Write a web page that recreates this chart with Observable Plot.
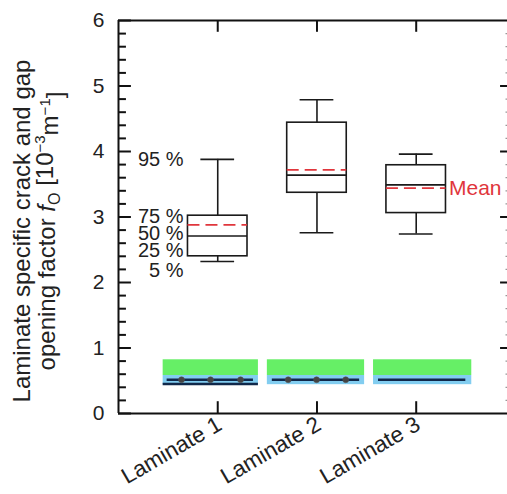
<!DOCTYPE html>
<html>
<head>
<meta charset="utf-8">
<script src="https://cdn.jsdelivr.net/npm/d3@7"></script>
<script src="https://cdn.jsdelivr.net/npm/@observablehq/plot@0.6"></script>
<style>
  html, body { margin: 0; padding: 0; background: #fff; }
  svg { display: block; }
</style>
</head>
<body>
<div id="chart"></div>
<script>
// ---- data ----
const categories = ["Laminate 1", "Laminate 2", "Laminate 3"];
const catPos = [1, 2, 3];
const p5  = [2.32, 2.76, 2.74];
const p25 = [2.40, 3.37, 3.06];
const p50 = [2.71, 3.64, 3.49];
const p75 = [3.02, 4.44, 3.79];
const p95 = [3.88, 4.79, 3.96];
const meanVals = [2.88, 3.72, 3.44];

// bottom bands (green / blue)
const bandStart = [0.45, 1.50, 2.57];
const bandEnd   = [1.41, 2.48, 3.56];
const greenTop  = [0.82, 0.82, 0.82];
const blueTop   = [0.58, 0.58, 0.58];
const blueBottom= [0.44, 0.44, 0.44];
// dark lines inside bands
const lineStart = [0.49, 1.55, 2.62];
const lineEnd   = [1.36, 2.43, 3.50];
const lineVal   = [0.515, 0.515, 0.515];
// extra bottom line for laminate 1
const extraLine = [{x1: 0.45, x2: 1.41, y: 0.45}];
// dots
const dotX = [0.635, 0.927, 1.23, 1.71, 1.996, 2.29];
const dotY = [0.515, 0.515, 0.515, 0.515, 0.515, 0.515];

// percentile labels
const pctLabels = ["95 %", "75 %", "50 %", "25 %", "5 %"];
const pctY = [3.88, 3.01, 2.75, 2.48, 2.18];

const yTicks = [0, 1, 2, 3, 4, 5, 6];

// ---- build tables ----
const boxes = categories.map((c, i) => ({
  c, x: catPos[i], p5: p5[i], p25: p25[i], p50: p50[i], p75: p75[i], p95: p95[i], mean: meanVals[i]
}));
const bands = categories.map((c, i) => ({
  x1: bandStart[i], x2: bandEnd[i], g: greenTop[i], b: blueTop[i], bb: blueBottom[i]
}));
const darkLines = categories.map((c, i) => ({x1: lineStart[i], x2: lineEnd[i], y: lineVal[i]}));
const dots = dotX.map((x, i) => ({x, y: dotY[i]}));
const pcts = pctLabels.map((t, i) => ({t, y: pctY[i]}));
const minorTicks = d3.range(0, 6.001, 0.2).map(v => +v.toFixed(1)).filter(v => Math.abs(v - Math.round(v)) > 1e-6);

const XMAX = 3.92;
const BW = 0.30, CW = 0.17;
const black = "#1a1a1a";
const red = "#e0363c";

const plot = Plot.plot({
  width: 507,
  height: 494,
  marginLeft: 118,
  marginRight: 0,
  marginTop: 20,
  marginBottom: 81,
  x: {type: "linear", domain: [0, XMAX], axis: null},
  y: {type: "linear", domain: [0, 6], axis: null},
  style: {fontFamily: "'Liberation Sans', Arial, sans-serif", fontSize: "21px", background: "#fff", overflow: "visible"},
  marks: [
    // bands
    Plot.rect(bands, {x1: "x1", x2: "x2", y1: "b", y2: "g", fill: "#66ef66"}),
    Plot.rect(bands, {x1: "x1", x2: "x2", y1: "bb", y2: "b", fill: "#82cdf0"}),
    Plot.ruleY(darkLines, {y: "y", x1: "x1", x2: "x2", stroke: "#10284a", strokeWidth: 2.5}),
    Plot.ruleY(extraLine, {y: "y", x1: "x1", x2: "x2", stroke: "#10284a", strokeWidth: 2.5}),
    Plot.dot(dots, {x: "x", y: "y", r: 3, fill: "#444", stroke: "#555", strokeWidth: 0.5}),

    // whiskers
    Plot.ruleX(boxes, {x: "x", y1: "p75", y2: "p95", stroke: black, strokeWidth: 1.6}),
    Plot.ruleX(boxes, {x: "x", y1: "p5", y2: "p25", stroke: black, strokeWidth: 1.6}),
    Plot.ruleY(boxes, {y: "p95", x1: d => d.x - CW, x2: d => d.x + CW, stroke: black, strokeWidth: 1.6}),
    Plot.ruleY(boxes, {y: "p5", x1: d => d.x - CW, x2: d => d.x + CW, stroke: black, strokeWidth: 1.6}),
    // box
    Plot.rect(boxes, {x1: d => d.x - BW, x2: d => d.x + BW, y1: "p25", y2: "p75", fill: "none", stroke: black, strokeWidth: 1.6}),
    Plot.ruleY(boxes, {y: "p50", x1: d => d.x - BW, x2: d => d.x + BW, stroke: black, strokeWidth: 1.6}),
    Plot.ruleY(boxes, {y: "mean", x1: d => d.x - BW, x2: d => d.x + BW, stroke: red, strokeWidth: 1.8, strokeDasharray: "12,6"}),

    // frame
    Plot.ruleY([0, 6], {stroke: "#111", strokeWidth: 2}),
    Plot.ruleX([0], {stroke: "#111", strokeWidth: 2}),
    // left ticks
    Plot.ruleY(yTicks, {y: d => d, x1: 0, x2: 0.13, stroke: "#111", strokeWidth: 2}),
    Plot.ruleY(minorTicks, {y: d => d, x1: 0, x2: 0.08, stroke: "#111", strokeWidth: 2}),
    // right ticks
    Plot.ruleY(yTicks.slice(1, 6), {y: d => d, x1: XMAX - 0.07, x2: XMAX, stroke: "#111", strokeWidth: 2}),
    Plot.ruleY(minorTicks, {y: d => d, x1: XMAX - 0.015, x2: XMAX, stroke: "#999", strokeWidth: 1.2}),
    // category ticks top and bottom
    Plot.ruleX(catPos, {x: d => d, y1: 6, y2: 5.82, stroke: "#111", strokeWidth: 2}),
    Plot.ruleX(catPos, {x: d => d, y1: 0, y2: 0.18, stroke: "#111", strokeWidth: 2}),

    // y tick labels
    Plot.text(yTicks, {x: 0, y: d => d, text: d => String(d), textAnchor: "end", dx: -14, fill: "#222", fontSize: 21}),
    // percentile labels
    Plot.text(pcts, {y: "y", text: "t", frameAnchor: "left", textAnchor: "end", dx: 65, fill: "#222", fontSize: 20}),
    // Mean label
    Plot.text([boxes[2]], {x: d => d.x + BW, y: "mean", text: () => "Mean", textAnchor: "start", dx: 3, fill: red, fontSize: 21}),
    // category labels
    Plot.text(boxes, {x: "x", y: 0, text: "c", rotate: -30, textAnchor: "end", dx: 2, dy: 9, fill: "#222", fontSize: 22.5})
  ]
});

document.getElementById("chart").appendChild(plot);

// y axis title with sub/superscripts
const svg = d3.select(plot);
const g = svg.append("g")
  .attr("font-family", "'Liberation Sans', Arial, sans-serif")
  .attr("font-size", 24)
  .attr("fill", "#222")
  .attr("text-anchor", "middle");
g.append("text")
  .attr("transform", "translate(22,231) rotate(-90)")
  .attr("dy", "0.35em")
  .text("Laminate specific crack and gap");
const t2 = g.append("text")
  .attr("transform", "translate(47,231) rotate(-90)")
  .attr("dy", "0.35em");
t2.append("tspan").text("opening factor ");
t2.append("tspan").attr("font-style", "italic").text("f");
t2.append("tspan").attr("font-size", 16).attr("dy", "0.3em").text("O");
t2.append("tspan").attr("dy", "-0.3em").text(" [10");
t2.append("tspan").attr("font-size", 15).attr("dy", "-0.55em").text("−3");
t2.append("tspan").attr("dy", "0.55em").text("m");
t2.append("tspan").attr("font-size", 15).attr("dy", "-0.55em").text("−1");
t2.append("tspan").attr("dy", "0.55em").text("]");
</script>
</body>
</html>
